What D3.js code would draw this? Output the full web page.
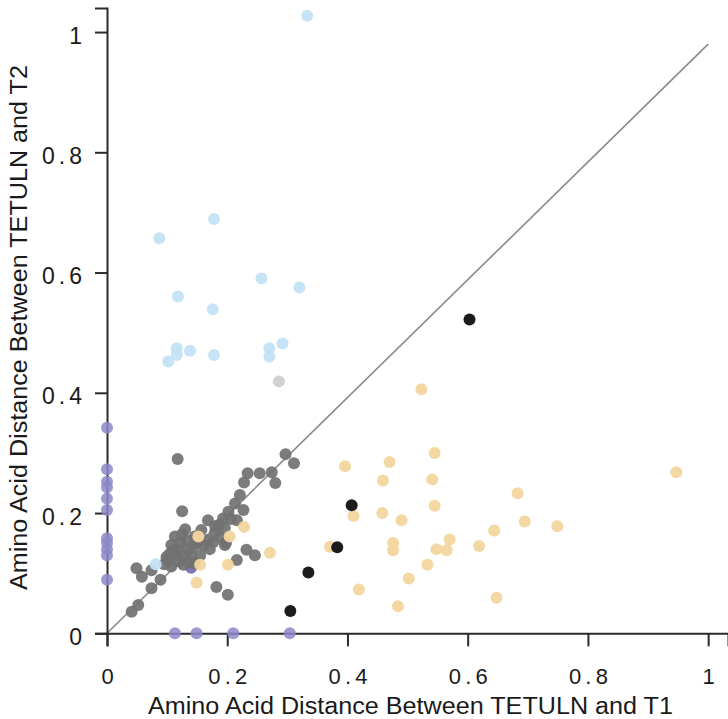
<!DOCTYPE html>
<html>
<head>
<meta charset="utf-8">
<script src="https://cdn.jsdelivr.net/npm/d3@7"></script>
<style>
  html, body { margin: 0; padding: 0; background: #fff; }
  svg { display: block; }
  text { font-family: "Liberation Sans", Arial, Helvetica, sans-serif; fill: #1a1a1a; }
</style>
</head>
<body>
<svg id="chart" width="728" height="719"></svg>
<script>
// Tick values and their labels
const xTicks = [0, 0.2, 0.4, 0.6, 0.8, 1];
const xTickLabels = ["0", "0.2", "0.4", "0.6", "0.8", "1"];
const yTicks = [0, 0.2, 0.4, 0.6, 0.8, 1];
const yTickLabels = ["0", "0.2", "0.4", "0.6", "0.8", "1"];

const xTitle = "Amino Acid Distance Between TETULN and T1";
const yTitle = "Amino Acid Distance Between TETULN and T2";

// Reference line y = slope * x
const fitLine = [[0, 0], [1, 0.98]];

// Points: [distance to T1, distance to T2]
const grayPts = [
  [0.041,0.036],[0.052,0.047],[0.074,0.075],[0.089,0.089],[0.058,0.094],[0.049,0.108],[0.074,0.105],
  [0.099,0.127],[0.102,0.122],[0.107,0.111],[0.116,0.130],[0.127,0.114],[0.130,0.130],[0.146,0.116],
  [0.140,0.128],[0.120,0.120],[0.110,0.138],[0.107,0.147],[0.113,0.161],[0.132,0.155],[0.146,0.161],
  [0.130,0.173],[0.122,0.150],[0.125,0.203],[0.1175,0.290],[0.143,0.144],[0.160,0.147],[0.177,0.152],
  [0.168,0.155],[0.171,0.140],[0.157,0.172],[0.168,0.188],[0.180,0.169],[0.180,0.178],[0.196,0.175],
  [0.193,0.191],[0.202,0.202],[0.216,0.188],[0.213,0.216],[0.227,0.205],[0.221,0.230],[0.228,0.251],
  [0.234,0.266],[0.254,0.266],[0.274,0.268],[0.280,0.250],[0.297,0.298],[0.311,0.283],[0.196,0.147],
  [0.232,0.139],[0.246,0.130],[0.216,0.122],[0.182,0.077],[0.201,0.064],[0.155,0.130],[0.188,0.160],
  [0.095,0.115],[0.104,0.132],[0.118,0.140],[0.135,0.140],[0.125,0.165],[0.150,0.150],[0.138,0.118],
  [0.206,0.190],[0.186,0.180]
];
const blackPts = [[0.603,0.522],[0.407,0.213],[0.383,0.143],[0.335,0.101],[0.305,0.037]];
const bluePts = [
  [0.087,0.657],[0.178,0.689],[0.257,0.590],[0.320,0.575],[0.118,0.560],[0.176,0.539],[0.116,0.474],
  [0.138,0.470],[0.116,0.463],[0.102,0.452],[0.178,0.463],[0.270,0.474],[0.270,0.460],[0.292,0.482],
  [0.333,1.027],[0.081,0.115]
];
const paleGrayPts = [[0.286,0.419]];
const orangePts = [
  [0.523,0.406],[0.545,0.300],[0.470,0.285],[0.396,0.278],[0.459,0.254],[0.541,0.256],[0.545,0.212],
  [0.458,0.200],[0.410,0.195],[0.490,0.188],[0.570,0.156],[0.476,0.150],[0.476,0.138],[0.548,0.140],
  [0.565,0.138],[0.619,0.145],[0.371,0.144],[0.271,0.134],[0.533,0.114],[0.502,0.091],[0.419,0.073],
  [0.484,0.045],[0.947,0.268],[0.683,0.233],[0.695,0.186],[0.749,0.178],[0.644,0.171],[0.648,0.059],
  [0.228,0.177],[0.204,0.161],[0.152,0.161],[0.155,0.114],[0.201,0.114],[0.149,0.084]
];
const purpleInnerPts = [[0.198,0.150],[0.140,0.109]];
const purpleAxisPts = [
  [0,0.342],[0,0.273],[0,0.252],[0,0.243],[0,0.224],[0,0.205],[0,0.158],[0,0.150],[0,0.140],[0,0.130],[0,0.089],
  [0.113,0],[0.149,0],[0.210,0],[0.304,0]
];

const svg = d3.select("#chart");

const x = d3.scaleLinear().domain([0, 1.033]).range([107, 728]);
const y = d3.scaleLinear().domain([0, 1.04]).range([633.3, 8]);

// Fitted line
svg.append("line")
  .attr("x1", x(fitLine[0][0])).attr("y1", y(fitLine[0][1]))
  .attr("x2", x(fitLine[1][0])).attr("y2", y(fitLine[1][1]))
  .attr("stroke", "#8a8a8a").attr("stroke-width", 1.6);

function dots(data, fill, opacity) {
  svg.append("g").selectAll("circle").data(data).join("circle")
    .attr("cx", d => x(d[0])).attr("cy", d => y(d[1]))
    .attr("r", 6).attr("fill", fill).attr("fill-opacity", opacity);
}

dots(purpleInnerPts, "#6f6aa8", 0.9);
dots(grayPts, "#717171", 0.92);
dots(paleGrayPts, "#d2d2d2", 1);
dots(orangePts, "#f3d69e", 0.95);
dots(bluePts, "#c4e2f6", 0.95);
dots(blackPts, "#1c1c1c", 1);

// Axes
const xAxis = svg.append("g").attr("transform", "translate(0,633.3)")
  .call(d3.axisBottom(x).tickValues(xTicks).tickSize(13).tickFormat((d, i) => xTickLabels[i]));
const yAxis = svg.append("g").attr("transform", "translate(107,0)")
  .call(d3.axisLeft(y).tickValues(yTicks).tickSize(12).tickFormat((d, i) => yTickLabels[i]));

[xAxis, yAxis].forEach(g => {
  g.select(".domain").attr("stroke", "#2a2a2a").attr("stroke-width", 2);
  g.selectAll(".tick line").attr("stroke", "#2a2a2a").attr("stroke-width", 2);
});

xAxis.selectAll(".tick text")
  .attr("y", 51).attr("dy", 0)
  .style("font-size", "22px")
  .each(function(d, i) {
    if (xTickLabels[i].length > 1) d3.select(this).attr("textLength", 39).attr("lengthAdjust", "spacing");
  });
yAxis.selectAll(".tick text")
  .attr("x", -25).attr("dy", 0).attr("y", 11)
  .style("font-size", "23px")
  .each(function(d, i) {
    if (yTickLabels[i].length > 1) d3.select(this).attr("textLength", 40).attr("lengthAdjust", "spacing");
  });

// Purple points sit on the axes, above the axis lines
dots(purpleAxisPts, "#8d88c9", 0.85);

// Axis titles
svg.append("text")
  .attr("x", 410.5).attr("y", 714)
  .attr("text-anchor", "middle")
  .attr("textLength", 525).attr("lengthAdjust", "spacingAndGlyphs")
  .style("font-size", "23px")
  .text(xTitle);

svg.append("text")
  .attr("transform", "translate(27,327.5) rotate(-90)")
  .attr("text-anchor", "middle")
  .attr("textLength", 525).attr("lengthAdjust", "spacingAndGlyphs")
  .style("font-size", "23px")
  .text(yTitle);
</script>
</body>
</html>
